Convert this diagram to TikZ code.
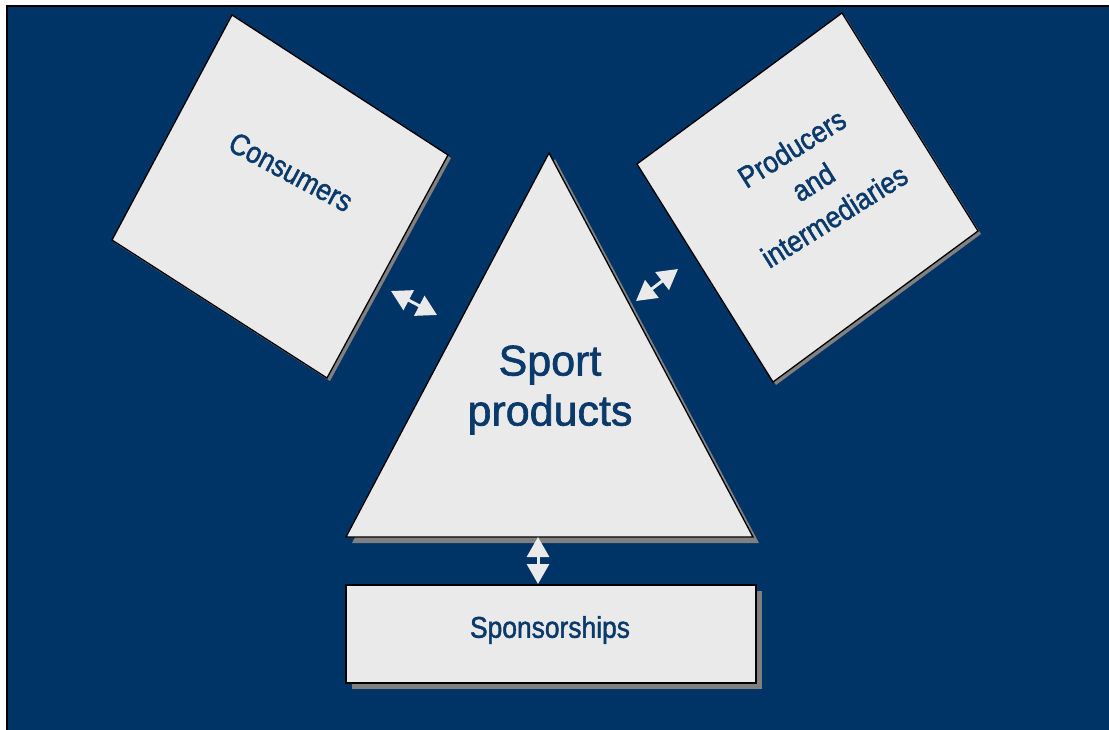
\documentclass[tikz,border=0pt]{standalone}
\usepackage{fontspec}
\setmainfont{Liberation Sans}
\newfontfamily\smallfont[FakeStretch=0.88,FakeBold=1.5]{Liberation Sans}
\newfontfamily\bigfont[FakeBold=1.5]{Liberation Sans}
\usetikzlibrary{arrows.meta}
\definecolor{bg}{HTML}{003366}
\definecolor{boxfill}{HTML}{EAEAEA}
\definecolor{shadowgray}{HTML}{808080}
\definecolor{txt}{HTML}{0A3A6B}
\begin{document}
\begin{tikzpicture}[x=1pt,y=-1pt,
  box/.style={fill=boxfill,draw=black,line width=1.3pt,line join=miter},
  boxshadow/.style={fill=shadowgray},
  lbl/.style={text=txt,align=center,inner sep=0pt,font=\smallfont\fontsize{30}{40}\selectfont},
  link/.style={draw=boxfill,line width=3pt,{Triangle[length=20pt,width=22pt]}-{Triangle[length=20pt,width=22pt]}},
]
\useasboundingbox (0,0) rectangle (1109,730);
\fill[white] (0,0) rectangle (1109,730);
\fill[bg] (7,6) rectangle (1109,730);
\draw[line width=2pt] (7,730) -- (7,6) -- (1109,6);

% corners
\coordinate (c1) at (232,15);  \coordinate (c2) at (448,155);
\coordinate (c3) at (327,378); \coordinate (c4) at (112,240);
\coordinate (p1) at (842,13);  \coordinate (p2) at (978,231);
\coordinate (p3) at (773,382); \coordinate (p4) at (637,164);
\coordinate (t1) at (549,153); \coordinate (t2) at (753,537);
\coordinate (t3) at (346,537);
\coordinate (s1) at (346,585); \coordinate (s2) at (756,683);

% shadows
\begin{scope}[transform canvas={shift={(3pt,-3pt)}}]
  \fill[boxshadow] (c1) -- (c2) -- (c3) -- (c4) -- cycle;
  \fill[boxshadow] (p1) -- (p2) -- (p3) -- (p4) -- cycle;
\end{scope}
\begin{scope}[transform canvas={shift={(6pt,-6pt)}}]
  \fill[boxshadow] (t1) -- (t2) -- (t3) -- cycle;
  \fill[boxshadow] (s1) rectangle (s2);
\end{scope}

% shapes
\draw[box] (c1) -- (c2) -- (c3) -- (c4) -- cycle;
\draw[box] (p1) -- (p2) -- (p3) -- (p4) -- cycle;
\draw[box] (t1) -- (t2) -- (t3) -- cycle;
\draw[box] (s1) rectangle (s2);

% labels
\node[lbl,rotate=-28] (consumers) at (291,172) {Consumers};
\node[lbl,rotate=32] (producers) at (813,182) {Producers\\and\\intermediaries};
\node[lbl,font=\bigfont\fontsize{43}{50}\selectfont] (sport) at (550,390) {Sport\\products};
\node[lbl] (sponsor) at (550,630) {Sponsorships};

% connectors
\coordinate (a1) at (391,291); \coordinate (a2) at (437,315);
\coordinate (b1) at (636,301); \coordinate (b2) at (678,269);
\coordinate (d1) at (538,537); \coordinate (d2) at (538,584);
\draw[link] (a1) -- (a2);
\draw[link] (b1) -- (b2);
\draw[link] (d1) -- (d2);
\end{tikzpicture}
\end{document}
